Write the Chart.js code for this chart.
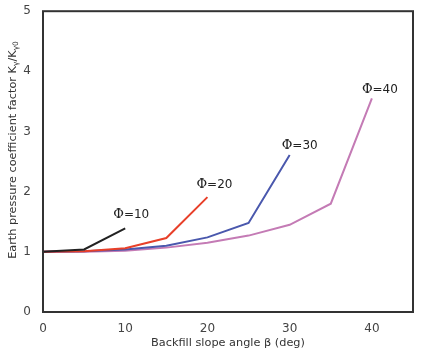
<!DOCTYPE html>
<html>
<head>
<meta charset="utf-8">
<script src="https://cdn.jsdelivr.net/npm/chart.js@4"></script>
<style>
  html, body { margin: 0; padding: 0; background: #fff; }
  #wrap { width: 421px; height: 350px; }
</style>
</head>
<body>
<div id="wrap"><canvas id="chart"></canvas></div>
<script>
// backfill slope angle (deg)
const angles = [0, 5, 10, 15, 20, 25, 30, 35, 40];

// K_y / K_y0 for each friction angle
const phi10 = [1.0, 1.04, 1.39];
const phi20 = [1.0, 1.01, 1.06, 1.23, 1.91];
const phi30 = [1.0, 1.01, 1.04, 1.10, 1.24, 1.48, 2.61];
const phi40 = [1.0, 1.0, 1.02, 1.07, 1.15, 1.27, 1.45, 1.80, 3.55];

const seriesNames = ["Φ=10", "Φ=20", "Φ=30", "Φ=40"];
const xTicks = [0, 10, 20, 30, 40];
const yTicks = [0, 1, 2, 3, 4, 5];

function pts(vals) {
    return vals.map((v, i) => ({ x: angles[i], y: v }));
}

const FONT = "'DejaVu Sans', sans-serif";

/* ========== frame + curve labels + y title ========== */
const extras = {
    id: "extras",
    afterDraw(chart) {
        const ctx = chart.ctx;
        const a = chart.chartArea;
        ctx.save();
        ctx.strokeStyle = "#333";
        ctx.lineWidth = 2;
        ctx.strokeRect(a.left, a.top, a.right - a.left, a.bottom - a.top);

        // labels just above the end of each curve
        const xs = chart.scales.x, ys = chart.scales.y;
        const sets = [phi10, phi20, phi30, phi40];
        const off = [[6, -14], [7, -12], [10, -9], [8, -9]];
        ctx.fillStyle = "#222";
        ctx.textBaseline = "middle";
        sets.forEach((s, i) => {
            const lastX = angles[s.length - 1];
            const px = xs.getPixelForValue(lastX) + off[i][0];
            const py = ys.getPixelForValue(s[s.length - 1]) + off[i][1];
            const txt = seriesNames[i];
            ctx.font = "13px 'DejaVu Serif', serif";
            const w1 = ctx.measureText("Φ").width;
            ctx.font = "12px " + FONT;
            const w2 = ctx.measureText(txt.slice(1)).width;
            let x0 = px - (w1 + w2) / 2;
            ctx.font = "13px 'DejaVu Serif', serif";
            ctx.textAlign = "left";
            ctx.fillText("Φ", x0, py);
            ctx.font = "12px " + FONT;
            ctx.fillText(txt.slice(1), x0 + w1, py);
        });

        // y axis title with subscripts
        ctx.translate(13, 150);
        ctx.rotate(-Math.PI / 2);
        ctx.fillStyle = "#333";
        const parts = [
            ["Earth pressure coefficient factor K", 11.3, 0],
            ["γ", 7.5, 3],
            ["/K", 11.3, 0],
            ["γ0", 7.5, 3]
        ];
        let total = 0;
        parts.forEach(p => { ctx.font = p[1] + "px " + FONT; total += ctx.measureText(p[0]).width; });
        let x = -total / 2;
        ctx.textAlign = "left";
        parts.forEach(p => {
            ctx.font = p[1] + "px " + FONT;
            ctx.fillText(p[0], x, p[2]);
            x += ctx.measureText(p[0]).width;
        });
        ctx.restore();
    }
};

const colors = ["#222222", "#e8402a", "#4a58ad", "#c47bb5"];

new Chart(document.getElementById("chart"), {
    type: "line",
    data: {
        datasets: [phi10, phi20, phi30, phi40].map((s, i) => ({
            label: seriesNames[i],
            data: pts(s),
            borderColor: colors[i],
            borderWidth: 2,
            pointRadius: 0,
            tension: 0,
            fill: false
        }))
    },
    options: {
        responsive: true,
        maintainAspectRatio: false,
        animation: false,
        layout: { padding: { top: 11, right: 8, left: 0, bottom: 0 } },
        plugins: { legend: { display: false }, tooltip: { enabled: false } },
        scales: {
            x: {
                type: "linear",
                min: 0, max: 45,
                afterBuildTicks: ax => { ax.ticks = xTicks.map(v => ({ value: v })); },
                grid: { display: false },
                border: { display: false },
                ticks: { color: "#444", font: { size: 12, family: FONT }, padding: 2 },
                title: {
                    display: true,
                    text: "Backfill slope angle β (deg)",
                    color: "#333",
                    font: { size: 11.3, family: FONT },
                    padding: { top: 2, bottom: 0 }
                },
                afterFit: ax => { ax.height = 38; }
            },
            y: {
                min: 0, max: 5,
                afterBuildTicks: ax => { ax.ticks = yTicks.map(v => ({ value: v })); },
                grid: { display: false },
                border: { display: false },
                ticks: { color: "#444", font: { size: 12, family: FONT }, padding: 4 },
                afterFit: ax => { ax.width = 43; }
            }
        }
    },
    plugins: [extras]
});
</script>
</body>
</html>
